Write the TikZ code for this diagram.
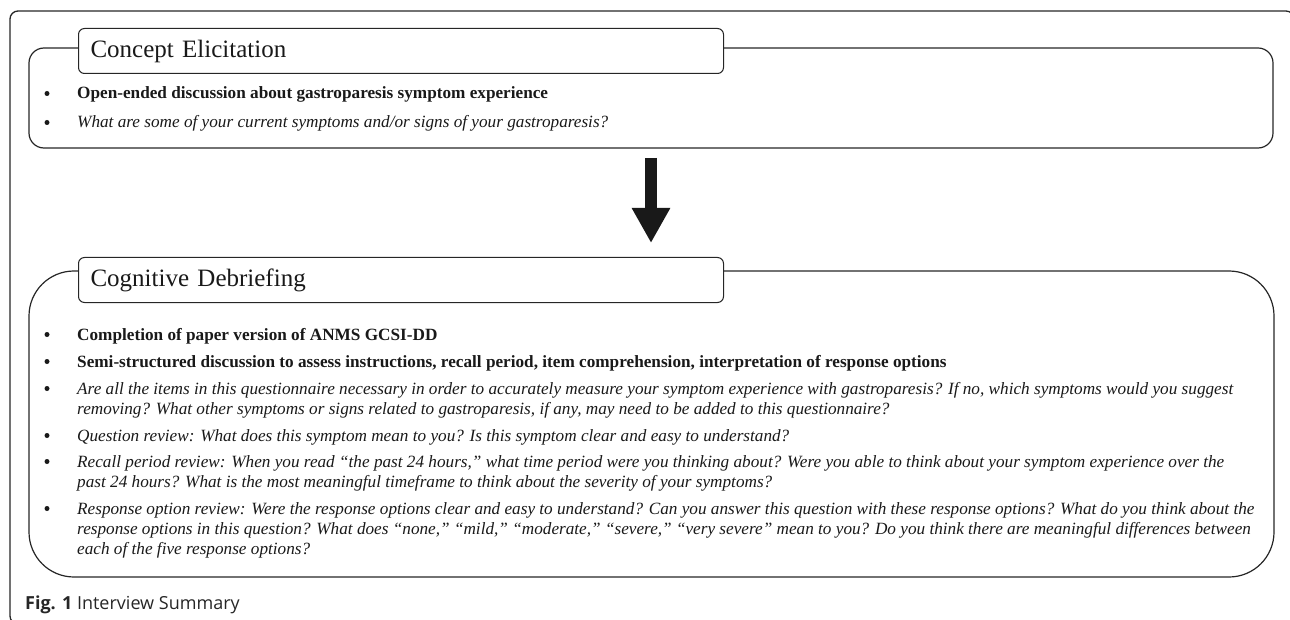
\documentclass[tikz,border=0pt]{standalone}
\usepackage{fontspec}
\setmainfont{Liberation Serif}
\newfontfamily\capfont{Open Sans}
\usetikzlibrary{arrows.meta}
\newcommand\lns[1]{\begin{tabular}[t]{@{}l@{}}#1\end{tabular}}
\begin{document}
\begin{tikzpicture}[x=1pt,y=-1pt,
  frame/.style={draw=black!85, line width=1.3pt, rounded corners=8pt},
  bigbox/.style={draw=black!85, line width=1.2pt},
  tabbox/.style={draw=black!85, fill=white, line width=1pt, rounded corners=6pt,
    anchor=north west, minimum width=645pt, minimum height=45pt, inner sep=0pt,
    text width=621pt, align=left, font=\fontsize{25}{30}\selectfont, text=black!90},
  itm/.style={anchor=base west, inner sep=0pt, font=\fontsize{17.2}{20}\selectfont, text=black!90},
  bul/.style={circle, fill=black!90, inner sep=0pt, minimum size=5pt},
  bigarrow/.style={line width=12pt, draw=black!90, -{Triangle[width=36pt,length=35pt]}},
  captext/.style={anchor=base west, inner sep=0pt, font=\capfont\fontsize{18}{22}\selectfont, text=black!85}]
\useasboundingbox (0,0) rectangle (1290,620);
% outer frame
\draw[frame] (10,11) rectangle (1294,624);
% box 1
\draw[bigbox, rounded corners=15pt] (29,48) rectangle (1273,148);
\node[tabbox] (t1) at (78,28) {Concept Elicitation};
\node[bul] (b11) at (47,93.5) {};
\node[itm] (i11) at (77,99) {\textbf{Open-ended discussion about gastroparesis symptom experience}};
\node[bul] (b12) at (47,122.5) {};
\node[itm] (i12) at (77,128) {\textit{What are some of your current symptoms and/or signs of your gastroparesis?}};
% arrow
\coordinate (a0) at (651,158);
\coordinate (a1) at (651,243);
\draw[bigarrow] (a0) -- (a1);
% box 2
\draw[bigbox, rounded corners=45pt] (29,271) rectangle (1274,577);
\node[tabbox] (t2) at (78,257) {Cognitive Debriefing};
\node[bul] (b21) at (47,334.5) {};
\node[itm] (i21) at (77,340) {\textbf{Completion of paper version of ANMS GCSI-DD}};
\node[bul] (b22) at (47,361.5) {};
\node[itm] (i22) at (77,367) {\textbf{Semi-structured discussion to assess instructions, recall period, item comprehension, interpretation of response options}};
\node[bul] (b23) at (47,388.5) {};
\node[itm] (i23) at (77,394) {\itshape\lns{Are all the items in this questionnaire necessary in order to accurately measure your symptom experience with gastroparesis? If no, which symptoms would you suggest\\removing? What other symptoms or signs related to gastroparesis, if any, may need to be added to this questionnaire?}};
\node[bul] (b24) at (47,435.5) {};
\node[itm] (i24) at (77,441) {\textit{Question review: What does this symptom mean to you? Is this symptom clear and easy to understand?}};
\node[bul] (b25) at (47,461.5) {};
\node[itm] (i25) at (77,467) {\itshape\lns{Recall period review: When you read “the past 24 hours,” what time period were you thinking about? Were you able to think about your symptom experience over the\\past 24 hours? What is the most meaningful timeframe to think about the severity of your symptoms?}};
\node[bul] (b26) at (47,508.5) {};
\node[itm] (i26) at (77,514) {\itshape\lns{Response option review: Were the response options clear and easy to understand? Can you answer this question with these response options? What do you think about the\\response options in this question? What does “none,” “mild,” “moderate,” “severe,” “very severe” mean to you? Do you think there are meaningful differences between\\each of the five response options?}};
% caption
\node[captext] (cap) at (25,609) {\textbf{Fig. 1} Interview Summary};
\end{tikzpicture}
\end{document}
